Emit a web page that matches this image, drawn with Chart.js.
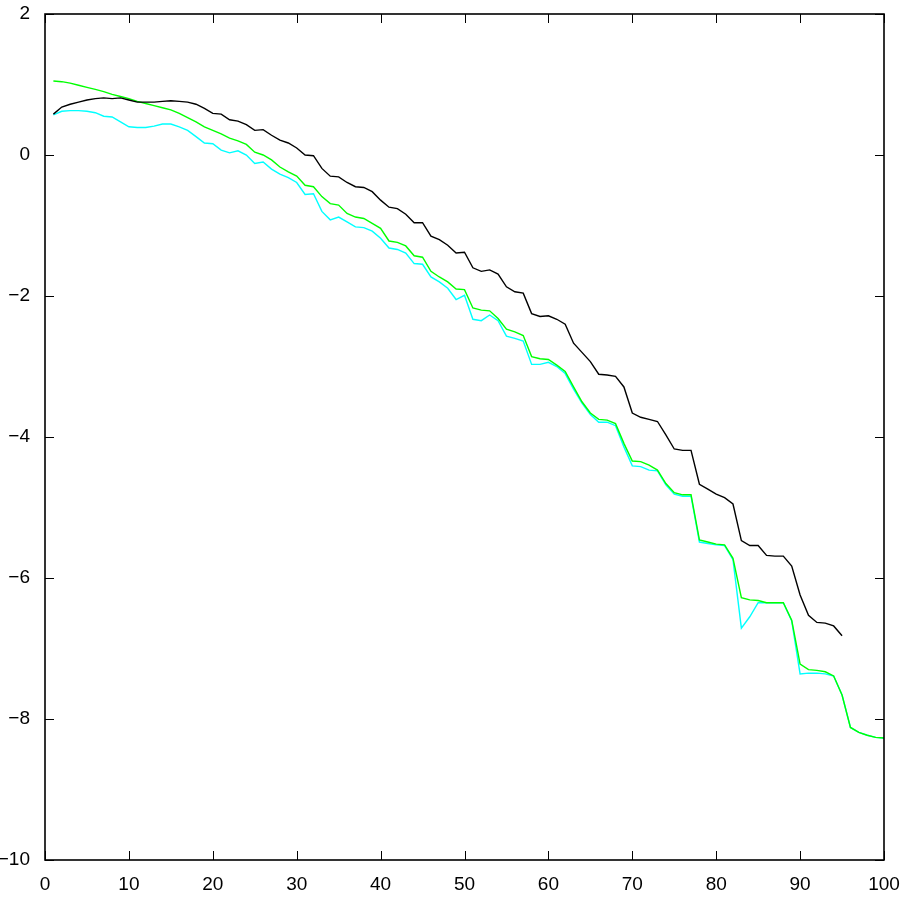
<!DOCTYPE html>
<html>
<head>
<meta charset="utf-8">
<script src="https://cdn.jsdelivr.net/npm/chart.js@4/dist/chart.umd.min.js"></script>
<style>
  html, body { margin: 0; padding: 0; background: #fff; }
  canvas { display: block; }
</style>
</head>
<body>
<canvas id="plot" width="904" height="897"></canvas>
<script>
// sample index along the x axis
const steps = Array.from({length: 100}, (_, i) => i + 1);

// black curve stops at 95
const blackVals = [
  0.58, 0.68, 0.72, 0.75, 0.78, 0.80, 0.81, 0.80, 0.81, 0.78,
  0.75, 0.75, 0.75, 0.76, 0.77, 0.76, 0.75, 0.72, 0.66, 0.59,
  0.58, 0.50, 0.48, 0.43, 0.35, 0.36, 0.28, 0.21, 0.17, 0.10,
  0.00, -0.01, -0.19, -0.30, -0.31, -0.39, -0.45, -0.46, -0.52, -0.64,
  -0.74, -0.76, -0.84, -0.96, -0.96, -1.15, -1.20, -1.28, -1.39, -1.38,
  -1.60, -1.65, -1.63, -1.69, -1.87, -1.94, -1.96, -2.25, -2.29, -2.28,
  -2.33, -2.40, -2.67, -2.80, -2.93, -3.11, -3.12, -3.14, -3.29, -3.66,
  -3.72, -3.75, -3.78, -3.97, -4.17, -4.19, -4.19, -4.67, -4.74, -4.81,
  -4.86, -4.95, -5.47, -5.54, -5.54, -5.68, -5.69, -5.69, -5.83, -6.24,
  -6.53, -6.63, -6.64, -6.68, -6.82
];

const greenVals = [
  1.05, 1.04, 1.02, 0.99, 0.96, 0.93, 0.90, 0.86, 0.83, 0.80,
  0.76, 0.73, 0.70, 0.67, 0.64, 0.59, 0.53, 0.47, 0.40, 0.35,
  0.30, 0.24, 0.20, 0.15, 0.04, 0.00, -0.07, -0.17, -0.24, -0.30,
  -0.43, -0.45, -0.59, -0.69, -0.71, -0.83, -0.88, -0.90, -0.97, -1.04,
  -1.22, -1.24, -1.29, -1.43, -1.45, -1.65, -1.73, -1.80, -1.90, -1.91,
  -2.17, -2.20, -2.21, -2.32, -2.47, -2.51, -2.56, -2.86, -2.89, -2.90,
  -2.98, -3.07, -3.29, -3.50, -3.66, -3.75, -3.76, -3.81, -4.09, -4.34,
  -4.35, -4.40, -4.47, -4.66, -4.79, -4.82, -4.82, -5.46, -5.49, -5.52,
  -5.53, -5.72, -6.28, -6.31, -6.32, -6.35, -6.35, -6.35, -6.60, -7.22,
  -7.30, -7.31, -7.33, -7.39, -7.66, -8.12, -8.19, -8.23, -8.26, -8.27
];

const cyanVals = [
  0.57, 0.62, 0.63, 0.63, 0.62, 0.60, 0.55, 0.54, 0.47, 0.40,
  0.39, 0.39, 0.41, 0.44, 0.44, 0.40, 0.35, 0.26, 0.17, 0.16,
  0.07, 0.03, 0.06, 0.00, -0.12, -0.10, -0.20, -0.27, -0.32, -0.39,
  -0.56, -0.55, -0.80, -0.92, -0.88, -0.95, -1.02, -1.03, -1.08, -1.18,
  -1.32, -1.34, -1.39, -1.54, -1.55, -1.73, -1.80, -1.89, -2.05, -1.99,
  -2.33, -2.35, -2.27, -2.35, -2.57, -2.60, -2.64, -2.97, -2.97, -2.94,
  -3.00, -3.10, -3.32, -3.52, -3.68, -3.79, -3.79, -3.84, -4.14, -4.41,
  -4.42, -4.47, -4.48, -4.68, -4.81, -4.84, -4.84, -5.49, -5.51, -5.53,
  -5.54, -5.74, -6.71, -6.55, -6.35, -6.35, -6.35, -6.35, -6.61, -7.36,
  -7.35, -7.35, -7.36, -7.39, -7.66, -8.12, -8.19, -8.23, -8.26, -8.27
];

const xTicks = [0, 10, 20, 30, 40, 50, 60, 70, 80, 90, 100];
const yTicks = [-10, -8, -6, -4, -2, 0, 2];

const FONT = "'Liberation Sans', Arial, Helvetica, sans-serif";

function pts(vals) {
  return vals.map((v, i) => ({x: steps[i], y: v}));
}

// matlab style box with inward ticks
const boxPlugin = {
  id: "box",
  afterDraw(chart) {
    let ctx = chart.ctx;
    let a = chart.chartArea;
    let xs = chart.scales.x, ys = chart.scales.y;
    let len = 9;
    ctx.save();
    ctx.strokeStyle = "#000";
    ctx.lineWidth = 1;
    ctx.beginPath();
    xTicks.forEach(t => {
      let px = Math.round(xs.getPixelForValue(t)) + 0.5;
      ctx.moveTo(px, a.bottom); ctx.lineTo(px, a.bottom - len);
      ctx.moveTo(px, a.top); ctx.lineTo(px, a.top + len);
    });
    yTicks.forEach(t => {
      let py = Math.round(ys.getPixelForValue(t)) + 0.5;
      ctx.moveTo(a.left, py); ctx.lineTo(a.left + len, py);
      ctx.moveTo(a.right, py); ctx.lineTo(a.right - len, py);
    });
    ctx.stroke();
    ctx.lineWidth = 1.6;
    ctx.strokeRect(a.left, a.top, a.right - a.left, a.bottom - a.top);
    ctx.restore();
  }
};

new Chart(document.getElementById("plot"), {
  type: "line",
  data: {
    datasets: [
      {data: pts(blackVals), borderColor: "#000000", borderWidth: 1.4},
      {data: pts(greenVals), borderColor: "#00ff00", borderWidth: 1.4},
      {data: pts(cyanVals), borderColor: "#00ffff", borderWidth: 1.4}
    ]
  },
  options: {
    responsive: false,
    animation: false,
    devicePixelRatio: 1,
    layout: {padding: {top: 14, right: 20, left: 0, bottom: 0}},
    elements: {point: {radius: 0}, line: {tension: 0}},
    plugins: {legend: {display: false}, tooltip: {enabled: false}},
    scales: {
      x: {
        type: "linear", min: 0, max: 100,
        grid: {display: false}, border: {display: false},
        afterFit(s) { s.height = 37; s.paddingLeft = 0; s.paddingRight = 0; },
        afterBuildTicks(s) { s.ticks = xTicks.map(v => ({value: v})); },
        ticks: {color: "#000", padding: 5, maxRotation: 0,
                font: {family: FONT, size: 19}}
      },
      y: {
        type: "linear", min: -10, max: 2,
        grid: {display: false}, border: {display: false},
        afterFit(s) { s.width = 45; s.paddingTop = 0; s.paddingBottom = 0; },
        afterBuildTicks(s) { s.ticks = yTicks.map(v => ({value: v})); },
        ticks: {color: "#000", padding: 7,
                font: {family: FONT, size: 19},
                callback: v => String(v).replace("-", "\u2212")}
      }
    }
  },
  plugins: [boxPlugin]
});
</script>
</body>
</html>
